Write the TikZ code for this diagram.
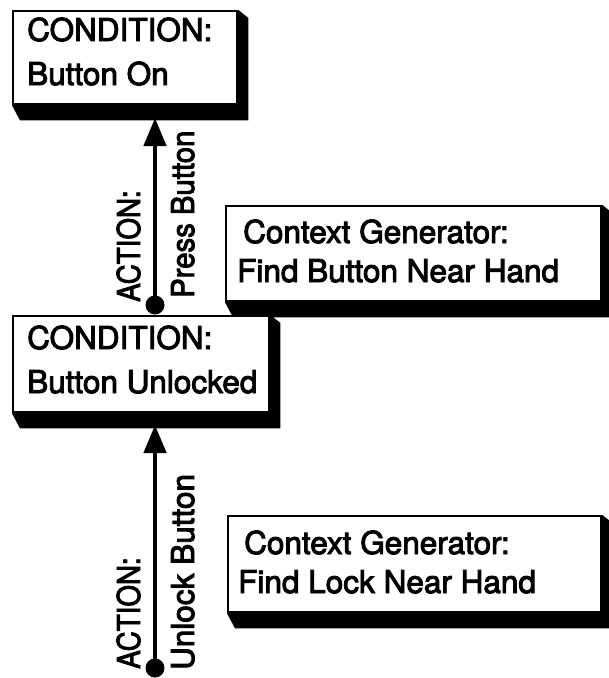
\documentclass[tikz,border=0pt]{standalone}
\usepackage{fontspec}
\newfontfamily\hv{TeX Gyre Heros}[FakeBold=3]
\usetikzlibrary{arrows.meta,backgrounds}

\tikzset{
  panel/.style={draw=black, line width=2.4pt, fill=white, inner sep=0pt, anchor=north west},
  txt/.style={font=\hv\fontsize{31.5}{36}\selectfont, inner sep=0pt, anchor=base west},
  vtxt/.style={font=\hv\fontsize{31.5}{36}\selectfont, inner sep=0pt, anchor=base west, rotate=90},
  link/.style={line width=4.5pt, -{Triangle[width=22pt,length=28pt]}},
  dot/.style={circle, fill=black, inner sep=0pt, minimum size=19pt},
  shade/.style={fill=black}
}
% black offset shadow under the bottom and right edges of a panel
\newcommand\panelshade[1]{%
  \fill[shade] (#1.south west) -- ++(8,15) -| ([shift={(10pt,-8pt)}]#1.north east)
    -- (#1.north east) -- cycle;}

\begin{document}
\begin{tikzpicture}[x=1pt,y=-1pt]
\useasboundingbox (0,0) rectangle (609,678);

% condition panels
\node[panel, minimum width=224pt, minimum height=93pt] (on) at (12,10) {};
\node[panel, minimum width=256pt, minimum height=96pt] (unl) at (12,315) {};
% context generator panels
\node[panel, minimum width=375pt, minimum height=95pt] (g1) at (225,205) {};
\node[panel, minimum width=373pt, minimum height=96pt] (g2) at (227,515) {};

\begin{scope}[on background layer]
  \panelshade{on}
  \panelshade{unl}
  \panelshade{g1}
  \panelshade{g2}
\end{scope}

% panel texts
\node[txt] (onA) at (27,41) {CONDITION:};
\node[txt] (onB) at (27,85) {Button On};
\node[txt] (unlA) at (27,349) {CONDITION:};
\node[txt] (unlB) at (27,393) {Button Unlocked};
\node[txt] (g1A) at (243,243) {Context Generator:};
\node[txt] (g1B) at (237,282) {Find Button Near Hand};
\node[txt] (g2A) at (244,554) {Context Generator:};
\node[txt] (g2B) at (238,593) {Find Lock Near Hand};

% actions
\coordinate (t1) at (155,118);
\node[dot] (d1) at (155,305) {};
\coordinate (t2) at (155,425);
\node[dot] (d2) at (155,668) {};
\draw[link] (d1.center) -- (t1);
\draw[link] (d2.center) -- (t2);

\node[vtxt] (a1) at (140,302) {\scalebox{0.88}[1]{ACTION:}};
\node[vtxt] (p1) at (194,298) {\scalebox{0.93}[1]{Press Button}};
\node[vtxt] (a2) at (140,669) {\scalebox{0.88}[1]{ACTION:}};
\node[vtxt] (p2) at (194,670) {Unlock Button};
\end{tikzpicture}
\end{document}
